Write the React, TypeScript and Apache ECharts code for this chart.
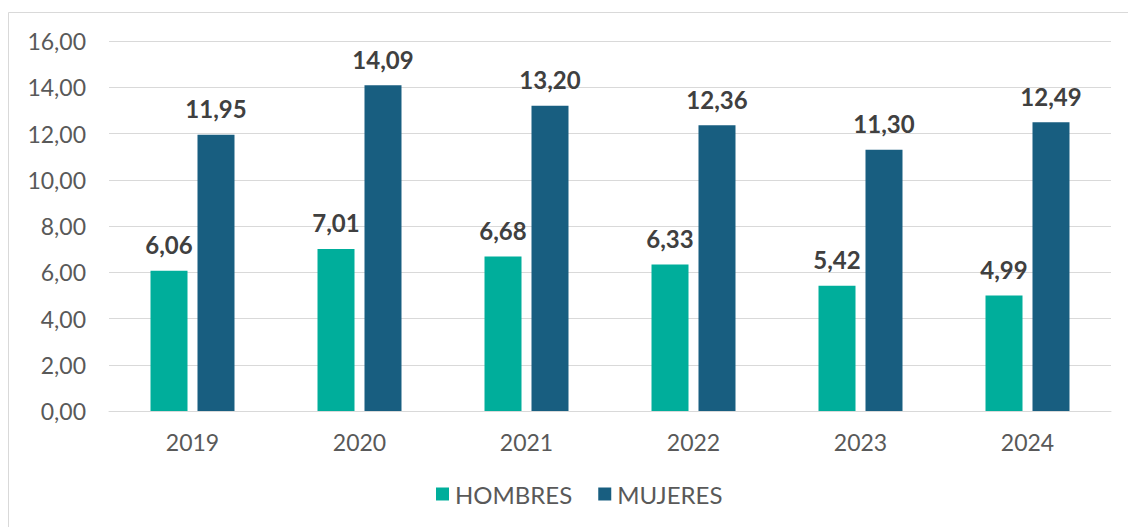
import React, { useEffect, useRef } from "react";
import * as echarts from "echarts";

const categories = ["2019", "2020", "2021", "2022", "2023", "2024"];
const hombres = [6.06, 7.01, 6.68, 6.33, 5.42, 4.99];
const mujeres = [11.95, 14.09, 13.2, 12.36, 11.3, 12.49];
const seriesNames = ["HOMBRES", "MUJERES"];

const fmt = (v: number) => v.toFixed(2).replace(".", ",");

export default function App() {
  const ref = useRef<HTMLDivElement>(null);
  useEffect(() => {
    if (!ref.current) return;
    const chart = echarts.init(ref.current, null, { renderer: "svg" });
    const labelStyle = {
      show: true,
      position: "top" as const,
      distance: 14,
      fontFamily: "Lato",
      fontWeight: "bold" as const,
      fontSize: 24,
      color: "#404040",
      formatter: (p: any) => fmt(p.value),
    };
    chart.setOption({
      animation: false,
      backgroundColor: "#ffffff",
      textStyle: { fontFamily: "Lato" },
      graphic: [
        {
          type: "rect",
          shape: { x: 8.5, y: 12.5, width: 1300, height: 700 },
          style: { fill: "none", stroke: "#d9d9d9", lineWidth: 1 },
          silent: true,
        },
      ],
      grid: { left: 109, right: 17, top: 41, bottom: 116 },
      legend: {
        data: seriesNames,
        top: 477,
        left: 431,
        icon: "rect",
        itemWidth: 13,
        itemHeight: 13,
        itemGap: 26,
        textStyle: { fontFamily: "Lato", fontSize: 24, color: "#595959", padding: [0, 0, 0, 1] },
      },
      xAxis: {
        type: "category",
        data: categories,
        axisLine: { lineStyle: { color: "#d9d9d9", width: 1 } },
        axisTick: { show: false },
        axisLabel: { fontFamily: "Lato", fontSize: 23, color: "#595959", margin: 19 },
      },
      yAxis: {
        type: "value",
        min: 0,
        max: 16,
        interval: 2,
        axisLine: { show: false },
        axisTick: { show: false },
        splitLine: { lineStyle: { color: "#d9d9d9", width: 1 } },
        axisLabel: {
          fontFamily: "Lato",
          fontSize: 23,
          color: "#595959",
          margin: 23,
          formatter: (v: number) => fmt(v),
        },
      },
      series: [
        {
          name: seriesNames[0],
          type: "bar",
          data: hombres,
          barWidth: 37,
          barGap: "27%",
          itemStyle: { color: "#00AE9B" },
          label: labelStyle,
        },
        {
          name: seriesNames[1],
          type: "bar",
          data: mujeres,
          barWidth: 37,
          itemStyle: { color: "#185E80" },
          label: labelStyle,
        },
      ],
    });
    return () => chart.dispose();
  }, []);
  return (
    <div
      ref={ref}
      style={{ position: "absolute", left: 0, top: 0, width: 1128, height: 527 }}
    />
  );
}
